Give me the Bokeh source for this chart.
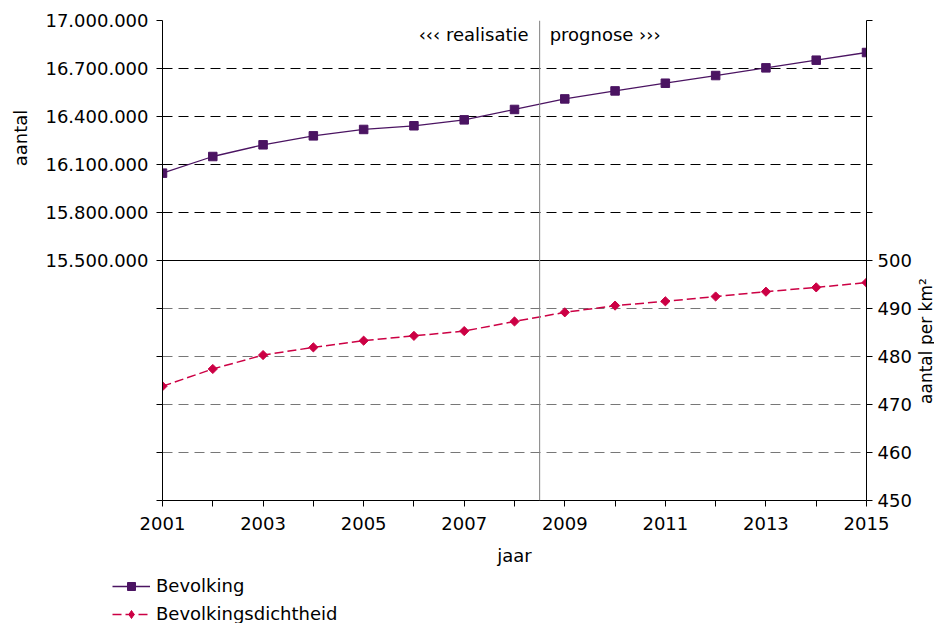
import math
from bokeh.plotting import figure
from bokeh.layouts import column, row
from bokeh.models import (Range1d, LinearAxis, FixedTicker, Span, Label, Legend,
                          LegendItem, Grid)
from bokeh.embed import file_html
from bokeh.resources import INLINE

years = list(range(2001, 2016))
bevolking = [16046000, 16150000, 16223000, 16279000, 16319000, 16342000, 16379000,
             16444000, 16510000, 16560000, 16608000, 16656000, 16704000, 16752000,
             16800000]
dichtheid = [473.8, 477.4, 480.3, 481.9, 483.3, 484.3, 485.3, 487.3, 489.2, 490.6,
             491.5, 492.5, 493.5, 494.4, 495.4]
left_ticks = [14000000 + 300000 * i for i in range(11)]
right_ticks = [450 + 10 * i for i in range(11)]
split_year = 2008.5

FONT = "DejaVu Sans"
FS = "18px"
PURPLE = "#4b1462"
RED = "#cc0044"
H = 572


def fmt_dots(v):
    return f"{v:,}".replace(",", ".")


def style_axis(ax):
    ax.major_label_text_font = FONT
    ax.major_label_text_font_size = FS
    ax.major_label_text_color = "black"
    ax.axis_label_text_font = FONT
    ax.axis_label_text_font_size = FS
    ax.axis_label_text_font_style = "normal"
    ax.axis_label_text_color = "black"
    ax.axis_line_color = "black"
    ax.major_tick_line_color = "black"
    ax.major_tick_in = 0
    ax.major_tick_out = 6
    ax.minor_tick_line_color = None


def blank_fig(width, height, **kw):
    f = figure(width=width, height=height, output_backend="svg", toolbar_location=None,
               x_axis_location=None, y_axis_location=None, outline_line_color=None,
               min_border_left=kw.get("left", 0), min_border_right=0,
               min_border_top=kw.get("top", 0), min_border_bottom=0,
               x_range=kw.get("x_range", Range1d(0, width)),
               y_range=kw.get("y_range", Range1d(height, 0)))
    f.grid.visible = False
    return f


# ---------- main chart ----------
p = figure(frame_width=704, frame_height=480, output_backend="svg", toolbar_location=None,
           x_range=Range1d(2001, 2015), y_range=Range1d(14000000, 17000000),
           min_border_left=132, min_border_right=46, min_border_top=20,
           min_border_bottom=H - 500, outline_line_color=None)
p.extra_y_ranges = {"right": Range1d(450, 550)}
p.grid.visible = False

xa = p.xaxis[0]
xa.ticker = FixedTicker(ticks=years)
xa.major_label_overrides = {y: (str(y) if y % 2 == 1 else "") for y in years}
xa.axis_label = "jaar"
ya = p.yaxis[0]
ya.ticker = FixedTicker(ticks=left_ticks)
ya.major_label_overrides = {v: (fmt_dots(v) if v >= 15500000 else "") for v in left_ticks}
ra = LinearAxis(y_range_name="right", ticker=FixedTicker(ticks=right_ticks))
ra.major_label_overrides = {v: (str(v) if v <= 500 else "") for v in right_ticks}
p.add_layout(ra, "right")
for ax in (xa, ya, ra):
    style_axis(ax)
xa.major_label_standoff = 10
xa.axis_label_standoff = 12
ya.major_label_standoff = 8
ra.major_label_standoff = 5

p.add_layout(Grid(dimension=1, ticker=FixedTicker(ticks=[v for v in left_ticks if v > 15500000]),
                  grid_line_color="black", grid_line_dash="10 6", grid_line_width=1))
p.add_layout(Grid(dimension=1, ticker=FixedTicker(ticks=[v for v in left_ticks if v < 15500000]),
                  grid_line_color="#777777", grid_line_dash="10 6", grid_line_width=1))
p.add_layout(Span(location=15500000, dimension="width", line_color="black", line_width=1))
p.add_layout(Span(location=split_year, dimension="height", line_color="#808080", line_width=1))

p.line(years, bevolking, line_color=PURPLE, line_width=1.3)
p.scatter(years, bevolking, marker="square", size=8.5, fill_color=PURPLE, line_color=PURPLE)
p.line(years, dichtheid, y_range_name="right", line_color=RED, line_width=1.5, line_dash="9 4")
p.scatter(years, dichtheid, y_range_name="right", marker="square", angle=math.pi / 4,
          size=6.5, fill_color=RED, line_color=RED)

p.add_layout(Label(x=split_year, y=17000000, x_offset=-11, y_offset=-24,
                   text="\u2039\u2039\u2039 realisatie", text_align="right",
                   text_font=FONT, text_font_size=FS, text_color="black"))
p.add_layout(Label(x=split_year, y=17000000, x_offset=10, y_offset=-24,
                   text="prognose \u203a\u203a\u203a", text_align="left",
                   text_font=FONT, text_font_size=FS, text_color="black"))

# ---------- side label strips ----------
left_fig = blank_fig(30, H)
left_fig.add_layout(Label(x=20, y=140, text="aantal", angle=math.pi / 2,
                          text_align="center", text_baseline="middle",
                          text_font=FONT, text_font_size=FS, text_color="black"))
right_fig = blank_fig(22, H)
right_fig.add_layout(Label(x=11, y=382, text="aantal per km\u00b2", angle=math.pi / 2,
                           text_align="center", text_baseline="middle",
                           text_font=FONT, text_font_size="17px", text_color="black"))

# ---------- legend strip ----------
leg_fig = blank_fig(420, 51, left=112, top=3, x_range=Range1d(0, 1), y_range=Range1d(0, 1))
l1 = leg_fig.line(years, bevolking, line_color=PURPLE, line_width=1.3)
m1 = leg_fig.scatter(years, bevolking, marker="square", size=8.5, fill_color=PURPLE,
                     line_color=PURPLE)
l2 = leg_fig.line(years, dichtheid, line_color=RED, line_width=1.5, line_dash="9 4")
m2 = leg_fig.scatter(years, dichtheid, marker="diamond", size=10,
                     fill_color=RED, line_color=RED)
legend = Legend(items=[LegendItem(label="Bevolking", renderers=[l1, m1]),
                       LegendItem(label="Bevolkingsdichtheid", renderers=[l2, m2])],
                location="top_left", orientation="vertical",
                label_text_font=FONT, label_text_font_size=FS, label_text_color="black",
                glyph_width=38, glyph_height=20, label_height=20, label_standoff=6,
                spacing=7, padding=0, margin=0, border_line_color=None,
                background_fill_alpha=0)
leg_fig.add_layout(legend)

layout = column(row(left_fig, p, right_fig, spacing=0), leg_fig, spacing=0)
open("out.html", "w").write(file_html(layout, INLINE))
